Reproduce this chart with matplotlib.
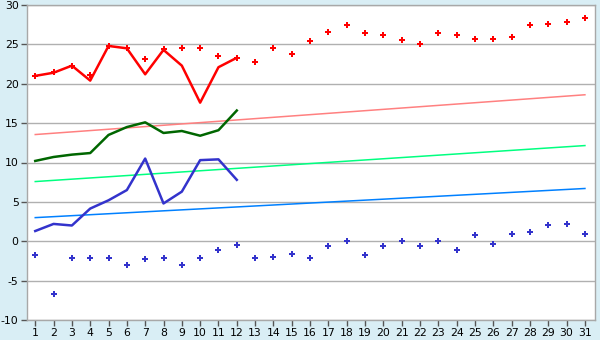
import numpy as np
import matplotlib.pyplot as plt

plt.rcParams['axes.unicode_minus'] = False

days = np.arange(1, 32)
days_line = np.arange(1, 13)

# red scatter (all days) and red line (days 1-12)
red_pts = [21.0, 21.5, 22.3, 21.1, 24.8, 24.5, 23.2, 24.4, 24.5, 24.5, 23.5, 23.3,
           22.8, 24.5, 23.8, 25.4, 26.6, 27.4, 26.4, 26.2, 25.6, 25.0, 26.5, 26.2,
           25.7, 25.7, 26.0, 27.4, 27.6, 27.8, 28.3]
red_line = [21.0, 21.4, 22.3, 20.4, 24.8, 24.5, 21.2, 24.3, 22.3, 17.6, 22.1, 23.3]

green_line = [10.2, 10.7, 11.0, 11.2, 13.5, 14.5, 15.1, 13.75, 14.0, 13.4, 14.1, 16.6]

blue_line = [1.3, 2.2, 2.0, 4.15, 5.2, 6.5, 10.5, 4.8, 6.3, 10.3, 10.4, 7.8]
blue_pts = [-1.8, -6.65, -2.07, -2.07, -2.07, -2.96, -2.2, -2.07, -2.96, -2.07, -1.06,
            -0.42, -2.07, -1.95, -1.57, -2.07, -0.55, 0.0, -1.8, -0.55, 0.0, -0.55,
            0.0, -1.06, 0.85, -0.3, 0.97, 1.23, 2.1, 2.24, 0.97]

# trend lines: value on day 1 and day 31
trend_days = [1, 31]
trend_red = [13.55, 18.6]
trend_green = [7.58, 12.15]
trend_blue = [3.0, 6.7]

fig = plt.figure(figsize=(6, 3.4), dpi=100, facecolor='#d9eef5')
ax = fig.add_axes([27/600, 20/340, 568/600, 315/340])
ax.set_facecolor('white')

ax.plot(trend_days, trend_red, color='#ff8080', lw=1.1)
ax.plot(trend_days, trend_green, color='#00ff80', lw=1.1)
ax.plot(trend_days, trend_blue, color='#0080ff', lw=1.1)

ax.plot(days_line, red_line, color='#ff0000', lw=1.8)
ax.plot(days_line, green_line, color='#006600', lw=1.8)
ax.plot(days_line, blue_line, color='#3333cc', lw=1.8)

ax.plot(days, red_pts, 'P', color='#ff0000', ms=5, mew=0, ls='none')
ax.plot(days, blue_pts, 'P', color='#3333cc', ms=5, mew=0, ls='none')

ax.set_xlim(0.55, 31.55)
ax.set_ylim(-10, 30)
ax.set_yticks(np.arange(-10, 31, 5))
ax.set_xticks(days)
ax.grid(axis='y', color='#b0b0b0', lw=1)
ax.set_axisbelow(True)
for s in ax.spines.values():
    s.set_color('#a8a8a8')
    s.set_linewidth(1)
ax.tick_params(axis='both', colors='#555555', labelcolor='black', labelsize=7.8,
               length=4, width=1, pad=2)

fig.savefig('out.png', dpi=100, facecolor=fig.get_facecolor())
